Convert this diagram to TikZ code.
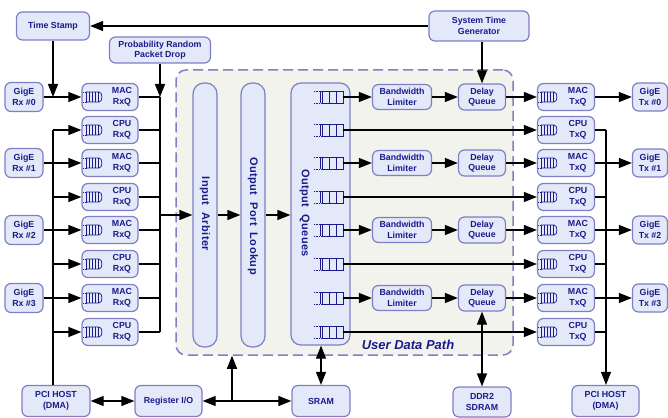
\documentclass[tikz,border=0pt]{standalone}
\usepackage{fontspec}
\setmainfont{Liberation Sans}
\usetikzlibrary{arrows.meta}
\definecolor{bfill}{HTML}{E3E9F8}
\definecolor{bdraw}{HTML}{7F7FC6}
\definecolor{btext}{HTML}{1A1A8C}
\definecolor{udpfill}{HTML}{F3F3EE}
\tikzset{
  box/.style={draw=bdraw, fill=bfill, line width=1.2pt, rounded corners=6pt, text=btext,
    font=\bfseries\fontsize{8.8}{10.5}\selectfont, align=center, inner sep=0pt},
  lbl/.style={text=btext, font=\bfseries\fontsize{8.8}{10.5}\selectfont, align=center, inner sep=0pt},
  vlbl/.style={text=btext, font=\bfseries\fontsize{11}{13}\selectfont\addfontfeature{LetterSpace=4}, inner sep=0pt, rotate=-90},
  pillar/.style={draw=bdraw, fill=bfill, line width=1.2pt, rounded corners=11pt, inner sep=0pt},
  udp/.style={draw=bdraw, fill=udpfill, line width=1.5pt, rounded corners=10pt, dash pattern=on 10pt off 5pt, inner sep=0pt},
  conn/.style={line width=1.2pt, draw=black},
  arr/.style={conn, -{Triangle[length=13pt,width=10pt]}},
  darr/.style={conn, {Triangle[length=13pt,width=10pt]}-{Triangle[length=13pt,width=10pt]}},
  qicon/.style={draw=btext, line width=0.7pt},
}
\newcommand\rxicon[2]{% left x, center y
  \draw[qicon, densely dotted] (#1,#2-5) -- ++(4,0) (#1,#2+5) -- ++(4,0);
  \draw[qicon] (#1+3,#2-5) -- (#1+16,#2-5) to[out=0,in=0] (#1+16,#2+5) -- (#1+3,#2+5);
  \foreach \dx in {3,6,9,12,15} {\draw[qicon] (#1+\dx,#2-5) -- (#1+\dx,#2+5);}
}
\newcommand\oqicon[2]{% right x, center y
  \draw[qicon, densely dotted] (#1-29,#2-6) -- (#1-21,#2-6) (#1-29,#2+6) -- (#1-21,#2+6);
  \draw[qicon] (#1-21,#2-6) rectangle (#1,#2+6);
  \draw[qicon] (#1-23,#2-6) -- (#1-23,#2+6) (#1-14,#2-6) -- (#1-14,#2+6) (#1-7,#2-6) -- (#1-7,#2+6);
}
\begin{document}
\begin{tikzpicture}[x=1pt,y=-1pt]
\useasboundingbox (0,0) rectangle (668,417);

% user data path
\node[udp, minimum width=337pt, minimum height=285pt] (udp) at (344.5,212.5) {};
\node[text=btext, font=\bfseries\itshape\fontsize{13}{15}\selectfont, inner sep=0pt] (udpl) at (408,345) {User Data Path};

% top
\node[box, minimum width=73pt, minimum height=28pt] (ts) at (53,26) {Time Stamp};
\node[box, minimum width=100pt, minimum height=30pt] (stg) at (479,26) {System Time\\Generator};
\node[box, minimum width=101pt, minimum height=26pt] (prpd) at (160,50) {Probability Random\\Packet Drop};

% pillars
\node[pillar, minimum width=24pt, minimum height=264pt] (ia) at (205,215) {};
\node[vlbl] (ial) at (205,214) {Input\ \ Arbiter};
\node[pillar, minimum width=24pt, minimum height=264pt] (opl) at (253,215) {};
\node[vlbl] (opll) at (253,216) {Output\ \ Port\ \ Lookup};
\node[pillar, rounded corners=10pt, minimum width=59pt, minimum height=262pt] (oq) at (320.5,214) {};
\node[vlbl] (oql) at (304.5,213) {Output\ \ Queues};

% coordinates of buses
\coordinate (busL) at (53,0);
\coordinate (busR) at (160,0);
\coordinate (busT) at (606,0);

% rows
\foreach \i/\y/\t in {0/97/MAC,1/130/CPU,2/163/MAC,3/197/CPU,4/230/MAC,5/264/CPU,6/298/MAC,7/332/CPU} {
  \node[box, minimum width=56pt, minimum height=27pt] (rq\i) at (110,\y) {};
  \node[lbl] (rql\i) at (122,\y) {\t\\RxQ};
  \rxicon{83}{\y}
  \node[box, minimum width=57pt, minimum height=27pt] (tq\i) at (566,\y) {};
  \node[lbl] (tql\i) at (578,\y) {\t\\TxQ};
  \rxicon{538}{\y}
  \oqicon{343}{\y}
  \coordinate (oq\i) at (343,\y);
}
\foreach \i/\y/\n in {0/97/0,2/163/1,4/230/2,6/298/3} {
  \node[box, minimum width=38pt, minimum height=29pt] (rx\n) at (24,\y) {GigE\\Rx \#\n};
  \node[box, minimum width=35pt, minimum height=28pt] (tx\n) at (650,\y) {GigE\\Tx \#\n};
  \node[box, minimum width=59pt, minimum height=25pt] (bl\n) at (402,\y) {Bandwidth\\Limiter};
  \node[box, minimum width=47pt, minimum height=26pt] (dq\n) at (482,\y) {Delay\\Queue};
}

% bottom
\node[box, minimum width=68pt, minimum height=31pt] (pcil) at (56,401) {PCI HOST\\(DMA)};
\node[box, minimum width=67pt, minimum height=31pt] (reg) at (168.5,401) {Register I/O};
\node[box, minimum width=58pt, minimum height=31pt] (sram) at (321,401) {SRAM};
\node[box, minimum width=58pt, minimum height=30pt] (ddr) at (482,402) {DDR2\\SDRAM};
\node[box, minimum width=67pt, minimum height=31pt] (pcir) at (605.5,401) {PCI HOST\\(DMA)};

% connectors
\draw[arr] (stg.west) -- (ts.east);
\draw[arr] (stg.south -| dq0.north) -- (dq0.north);
\draw[arr] (ts.south) -- (ts.south |- rx0.east);
\draw[arr] (prpd.south) -- (prpd.south |- rq0.east);

\foreach \n/\i in {0/0,1/2,2/4,3/6} {
  \draw[arr] (rx\n.east) -- (rq\i.west);
  \draw[arr] (oq\i) -- (bl\n.west);
  \draw[arr] (bl\n.east) -- (dq\n.west);
  \draw[arr] (dq\n.east) -- (tq\i.west);
  \draw[arr] (tq\i.east) -- (tx\n.west);
}
\foreach \i in {1,3,5,7} {
  \draw[arr] (busL |- rq\i.west) -- (rq\i.west);
  \draw[arr] (oq\i) -- (tq\i.west);
  \draw[conn] (tq\i.east) -- (busT |- tq\i.east);
}
\foreach \i in {0,...,7} {
  \draw[conn] (rq\i.east) -- (busR |- rq\i.east);
}
\draw[conn] (busL |- rq1.west) -- (busL |- pcil.north);
\draw[conn] (busR |- rq0.east) -- (busR |- rq7.east);
\draw[arr] (busR |- ia.west) -- (ia.west);
\draw[arr] (ia.east) -- (opl.west);
\draw[arr] (opl.east) -- (oq.west |- opl.east);
\draw[arr] (busT |- tq1.east) -- (busT |- pcir.north);

\draw[darr] (pcil.east) -- (reg.west);
\draw[darr] (reg.east) -- (sram.west);
\coordinate (j) at (232,401);
\draw[arr] (j) -- (j |- udp.south);
\draw[darr] (sram.north) -- (sram.north |- oq.south);
\draw[darr] (dq3.south) -- (ddr.north);
\end{tikzpicture}
\end{document}
